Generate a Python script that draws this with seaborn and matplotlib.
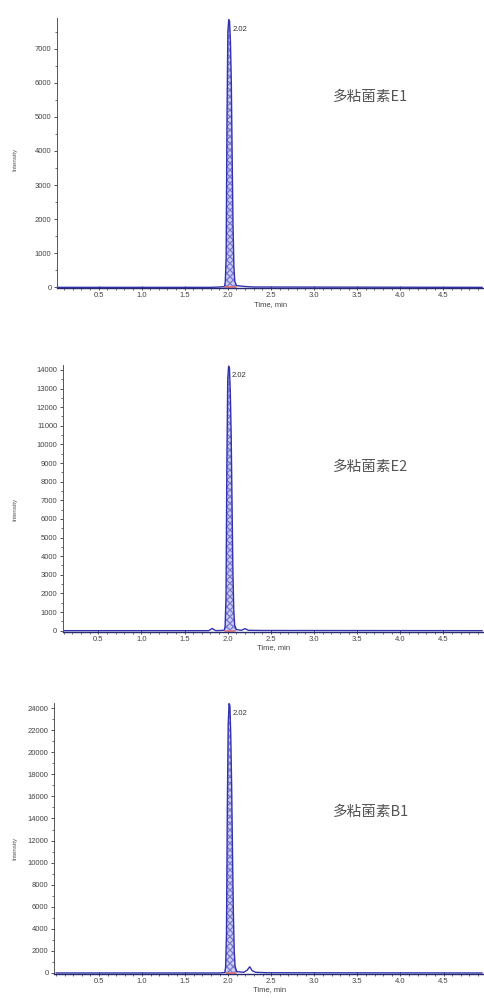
import numpy as np
import pandas as pd
import matplotlib
matplotlib.use("Agg")
import matplotlib.pyplot as plt
import seaborn as sns
from matplotlib.ticker import MultipleLocator

# retention time (min) and intensity for the three chromatograms
time_e1 = [0.0, 1.80, 1.90, 1.96, 1.97, 1.98, 1.99, 2.00, 2.01, 2.02, 2.03, 2.04, 2.05, 2.06, 2.07, 2.08, 2.10, 2.20, 2.30, 4.95]
int_e1 = [0, 0, 10, 20, 150, 900, 5000, 7500, 7850, 7800, 7200, 6000, 3800, 1800, 600, 180, 50, 25, 10, 0]

time_e2 = [0.0, 1.78, 1.82, 1.86, 1.96, 1.97, 1.98, 1.99, 2.00, 2.01, 2.02, 2.03, 2.04, 2.05, 2.06, 2.07, 2.08, 2.10, 2.16, 2.20, 2.24, 2.40, 4.95]
int_e2 = [0, 0, 120, 0, 20, 250, 1800, 9000, 13500, 14200, 14100, 12800, 10500, 6800, 3200, 1100, 300, 60, 20, 110, 20, 10, 0]

time_b1 = [0.0, 1.90, 1.96, 1.97, 1.98, 1.99, 2.00, 2.01, 2.02, 2.03, 2.04, 2.05, 2.06, 2.07, 2.08, 2.10, 2.18, 2.22, 2.25, 2.28, 2.32, 2.45, 4.95]
int_b1 = [0, 0, 40, 500, 3500, 15000, 22500, 24400, 24200, 21500, 17000, 11000, 5500, 2000, 600, 120, 60, 250, 560, 200, 60, 20, 0]

names = ["多粘菌素E1", "多粘菌素E2", "多粘菌素B1"]
apex_label = "2.02"
y_tops = [7900, 14250, 24500]
y_steps = [1000, 1000, 2000]
x_starts = [0.02, 0.09, -0.02]

sns.set_style("ticks")
plt.rcParams['font.family'] = ['Liberation Sans', 'DejaVu Sans']

fig = plt.figure(figsize=(4.84, 9.98), dpi=100)
boxes = [[0.118, 0.711, 0.882, 0.271],
         [0.130, 0.367, 0.870, 0.267],
         [0.112, 0.024, 0.888, 0.272]]
series = [(time_e1, int_e1), (time_e2, int_e2), (time_b1, int_b1)]
text_y = [0.903, 0.532, 0.186]
ylab_y = [0.84, 0.49, 0.15]

line_col = "#3232b0"
for i, (t, v) in enumerate(series):
    ax = fig.add_axes(boxes[i])
    df = pd.DataFrame({"time": t, "intensity": v})
    ax.fill_between(df["time"], df["intensity"], 0, where=(df["time"] >= 1.96) & (df["time"] <= 2.10),
                    facecolor="#cfcff2", edgecolor="#7c7cd4", hatch="xxxxx", linewidth=0)
    sns.lineplot(data=df, x="time", y="intensity", ax=ax, color=line_col, linewidth=1.0)
    ax.plot([1.97, 2.09], [0, 0], color="#e07070", linewidth=1.2)
    peak = df.loc[df["intensity"].idxmax()]
    ax.annotate(apex_label, xy=(peak["time"], peak["intensity"]),
                xytext=(peak["time"] + 0.04, peak["intensity"] * 0.965),
                fontsize=5.5, color="#333333", va="center",
                arrowprops=dict(arrowstyle="-", color="#555555", lw=0.6))
    ax.set_xlim(x_starts[i], 4.97)
    ax.set_ylim(-y_tops[i] * 0.004, y_tops[i])
    ax.xaxis.set_major_locator(MultipleLocator(0.5))
    ax.xaxis.set_minor_locator(MultipleLocator(0.1))
    ax.yaxis.set_major_locator(MultipleLocator(y_steps[i]))
    ax.yaxis.set_minor_locator(MultipleLocator(y_steps[i] / 2))
    ax.set_xticks([0.5, 1.0, 1.5, 2.0, 2.5, 3.0, 3.5, 4.0, 4.5])
    ax.set_xticklabels(["0.5", "1.0", "1.5", "2.0", "2.5", "3.0", "3.5", "4.0", "4.5"])
    ax.tick_params(axis="both", which="major", labelsize=5.5, labelcolor="#444444",
                   length=2.5, width=0.6, color="#333333", pad=1.5)
    ax.tick_params(axis="both", which="minor", length=1.5, width=0.5, color="#333333")
    ax.tick_params(axis="x", direction="inout")
    for s in ["top", "right"]:
        ax.spines[s].set_visible(False)
    ax.spines["left"].set_color("#555555")
    ax.spines["left"].set_linewidth(0.7)
    ax.spines["bottom"].set_color("#2a2a70")
    ax.spines["bottom"].set_linewidth(1.0)
    ax.set_xlabel("Time, min", fontsize=5.5, color="#444444", labelpad=1)
    ax.set_ylabel("")
    fig.text(0.031, ylab_y[i], "Intensity", rotation=90, fontsize=4.5, color="#555555",
             ha="center", va="center")
    fig.text(0.688, text_y[i], names[i], fontsize=10.5, color="#555555", va="center", ha="left",
             family=["Noto Sans CJK SC", "DejaVu Sans"])

fig.savefig("out.png", dpi=100)
